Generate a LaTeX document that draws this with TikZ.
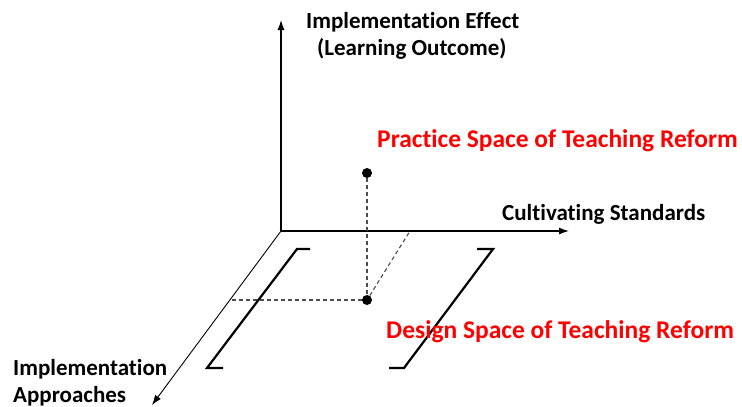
\documentclass[tikz,border=0pt]{standalone}
\usepackage{fontspec}
\setmainfont{Carlito}[Ligatures=NoCommon]
\usetikzlibrary{arrows.meta}

\begin{document}
\begin{tikzpicture}[x=1pt,y=-1pt,
    axis/.style={draw,line width=1.3pt,-{Latex[length=10pt,width=7pt]}},
    guide/.style={draw=black!70,dash pattern=on 4pt off 3pt,line width=1.1pt},
    bracket/.style={draw,line width=2.2pt},
    dot/.style={circle,fill,inner sep=0pt,minimum size=10pt},
    label/.style={font=\bfseries\fontsize{23}{27}\selectfont,anchor=base west,inner sep=0pt},
    space/.style={font=\bfseries\fontsize{25.5}{30}\selectfont,text=red,anchor=base west,inner sep=0pt}]
      \useasboundingbox (0,0) rectangle (742,407);
      % axes
      \coordinate (O) at (281,231);
      \coordinate (effect) at (281,20);
      \coordinate (standard) at (569,231);
      \coordinate (approach) at (152,405);
      \path[axis] (O) -- (effect);
      \path[axis] (O) -- (standard);
      \path[axis,line width=0.9pt] (O) -- (approach);
      % points and guides
      \node[dot](practice) at (367,173){};
      \node[dot](design) at (367,300){};
      \coordinate (onapproach) at (230,300);
      \coordinate (onstandard) at (410,231);
      \path[guide] (practice) -- (design);
      \path[guide] (design) -- (onapproach);
      \path[guide] (design) -- (onstandard);
      % design space brackets
      \path[bracket] (310,249) -- (297,249) -- (207,368) -- (223,368);
      \path[bracket] (477,249) -- (493,249) -- (404,368) -- (389,368);
      % labels
      \node[label](effectA) at (306,28){Implementation Effect};
      \node[label](effectB) at (317,55){(Learning Outcome)};
      \node[label](standardL) at (502,220){Cultivating Standards};
      \node[label](approachA) at (13,375){Implementation};
      \node[label](approachB) at (13,402){Approaches};
      \node[space](practiceL) at (377,147){Practice Space of Teaching Reform};
      \node[space](designL) at (386,338){Design Space of Teaching Reform};
\end{tikzpicture}
\end{document}
